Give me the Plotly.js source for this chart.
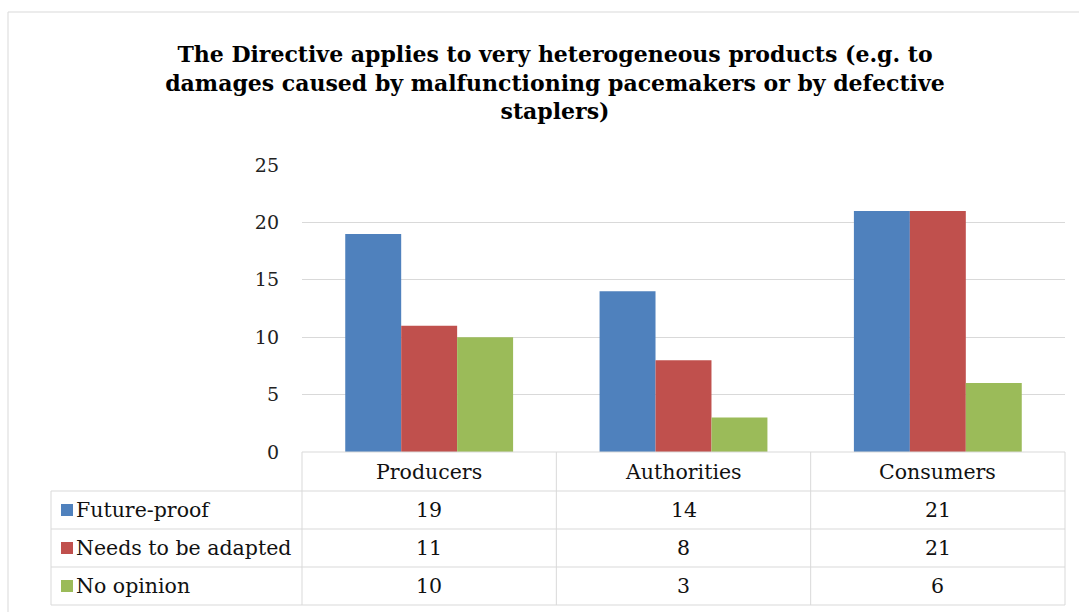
<!DOCTYPE html>
<html>
<head>
<meta charset="utf-8">
<script src="https://cdn.plot.ly/plotly-3.0.1.min.js"></script>
<style>html,body{margin:0;padding:0;background:#fff;}#chart{width:1079px;height:612px;}</style>
</head>
<body>
<div id="chart"></div>
<script>
// ---- data ----
const categories = ["Producers", "Authorities", "Consumers"];
const seriesNames = ["Future-proof", "Needs to be adapted", "No opinion"];
const futureProof = [19, 14, 21];
const needsAdapted = [11, 8, 21];
const noOpinion = [10, 3, 6];
const yTicks = [0, 5, 10, 15, 20, 25];
const titleText = "The Directive applies to very heterogeneous products (e.g. to<br>damages caused by malfunctioning pacemakers or by defective<br>staplers)";

// ---- styles ----
const colors = ["#4F81BD", "#C0504D", "#9BBB59"];
const seriesValues = [futureProof, needsAdapted, noOpinion];
const W = 1079, H = 612;
const L = 302, R = 1065, T = 165, B = 452;
const plotW = R - L, plotH = B - T;
const X = px => (px - L) / plotW;
const Y = py => (B - py) / plotH;
const FONT = "DejaVu Serif";
const gridCol = "#d9d9d9";

const traces = seriesValues.map((vals, i) => ({
  type: "bar",
  name: seriesNames[i],
  x: categories,
  y: vals,
  marker: {color: colors[i]},
  hoverinfo: "x+y+name"
}));

// table geometry
const rowTops = [452, 491, 529, 567, 605];
const shapes = [];
const line = (x0, y0, x1, y1, c, w) => shapes.push({type: "line", xref: "paper", yref: "paper",
  x0: X(x0), y0: Y(y0), x1: X(x1), y1: Y(y1), line: {color: c || gridCol, width: w || 1}});

line(8, 12, 1090, 12);
line(8, 12, 8, 620);
line(L, rowTops[0], R, rowTops[0]);
for (let k = 1; k < rowTops.length; k++) line(51, rowTops[k], R, rowTops[k]);
line(51, rowTops[1], 51, rowTops[4]);
const colEdges = [L, L + plotW / 3, L + 2 * plotW / 3, R];
colEdges.forEach(cx => line(cx, rowTops[0], cx, rowTops[4]));

const annotations = [];
const txtFont = {family: FONT, size: 20.5, color: "#111"};
categories.forEach((c, j) => annotations.push({xref: "x", yref: "paper", x: j,
  y: Y((rowTops[0] + rowTops[1]) / 2), text: c, showarrow: false, font: txtFont, xanchor: "center", yanchor: "middle"}));
seriesNames.forEach((s, i) => {
  const yc = Y((rowTops[i + 1] + rowTops[i + 2]) / 2);
  annotations.push({xref: "paper", yref: "paper", x: X(74), y: yc, text: s, showarrow: false,
    font: txtFont, xanchor: "left", yanchor: "middle"});
  shapes.push({type: "rect", xref: "paper", yref: "paper", x0: X(61), x1: X(73),
    y0: Y((rowTops[i + 1] + rowTops[i + 2]) / 2 + 6), y1: Y((rowTops[i + 1] + rowTops[i + 2]) / 2 - 6),
    fillcolor: colors[i], line: {width: 0}});
  seriesValues[i].forEach((v, j) => annotations.push({xref: "x", yref: "paper", x: j, y: yc,
    text: String(v), showarrow: false, font: txtFont, xanchor: "center", yanchor: "middle"}));
});

const layout = {
  width: W, height: H,
  margin: {l: L, r: W - R, t: T, b: H - B, pad: 0},
  paper_bgcolor: "#fff", plot_bgcolor: "#fff",
  showlegend: false,
  barmode: "group",
  bargap: 0.34,
  bargroupgap: 0,
  title: {text: titleText, font: {family: FONT, size: 22, color: "#000", weight: "bold"},
    xref: "paper", x: X(555), xanchor: "center", yref: "container", y: 1 - 62 / H, yanchor: "top"},
  xaxis: {type: "category", range: [-0.5, 2.5], showticklabels: false, showgrid: false,
    zeroline: false, showline: false, ticks: "", fixedrange: true},
  yaxis: {range: [0, 25], tickvals: yTicks, showgrid: true, gridcolor: gridCol, gridwidth: 1,
    zeroline: false, showline: false, ticks: "", ticklabelstandoff: 22,
    tickfont: {family: FONT, size: 19, color: "#222"}, fixedrange: true},
  shapes: shapes,
  annotations: annotations,
  font: {family: FONT}
};

Plotly.newPlot("chart", traces, layout, {displayModeBar: false, staticPlot: true});
</script>
</body>
</html>
